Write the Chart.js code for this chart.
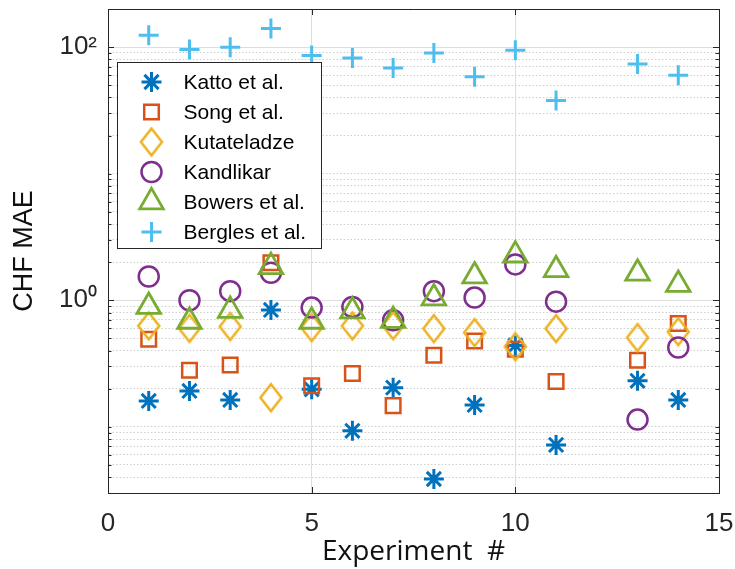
<!DOCTYPE html>
<html>
<head>
<meta charset="utf-8">
<title>CHF MAE by experiment</title>
<script src="https://cdn.jsdelivr.net/npm/chart.js@4.4.1/dist/chart.umd.min.js"></script>
<style>
  html, body { margin: 0; padding: 0; background: #fff; }
  #wrap { width: 735px; height: 569px; }
</style>
</head>
<body>
<div id="wrap"><canvas id="maeChart" width="735" height="569"></canvas></div>
<script>
// CHF mean absolute error for each experiment, one series per correlation
const experiments = [1, 2, 3, 4, 5, 6, 7, 8, 9, 10, 11, 13, 14];
const kattoMae     = [0.160, 0.192, 0.163, 0.838, 0.198, 0.093, 0.204, 0.0387, 0.149, 0.44, 0.072, 0.231, 0.163];
const songMae      = [0.492, 0.280, 0.308, 1.98, 0.211, 0.264, 0.147, 0.368, 0.477, 0.41, 0.228, 0.336, 0.654];
const kutateladzeMae = [0.627, 0.600, 0.620, 0.170, 0.608, 0.627, 0.630, 0.597, 0.555, 0.43, 0.597, 0.507, 0.565];
const kandlikarMae = [1.54, 1.00, 1.18, 1.65, 0.875, 0.885, 0.695, 1.18, 1.05, 1.92, 0.975, 0.114, 0.423];
const bowersMae    = [0.89, 0.68, 0.83, 1.84, 0.68, 0.82, 0.69, 1.04, 1.55, 2.27, 1.74, 1.63, 1.33];
const berglesMae   = [124, 95.7, 99.8, 140, 85.9, 82.2, 68.5, 90, 58.2, 94.6, 37.9, 73.7, 60];

const seriesNames  = ['Katto et al.', 'Song et al.', 'Kutateladze', 'Kandlikar', 'Bowers et al.', 'Bergles et al.'];
const seriesColors = ['#0072BD', '#D95319', '#EDB120', '#7E2F8E', '#77AC30', '#4DBEEE'];

const xTicks = [0, 5, 10, 15];
const yTicks = [0.03, 0.04, 0.05, 0.06, 0.07, 0.08, 0.09,
                0.1, 0.2, 0.3, 0.4, 0.5, 0.6, 0.7, 0.8, 0.9,
                1, 2, 3, 4, 5, 6, 7, 8, 9,
                10, 20, 30, 40, 50, 60, 70, 80, 90,
                100, 200];
const yTickLabels = { 1: '10\u2070', 100: '10\u00B2' };
const yMajor = [1, 100];

// tall hollow diamond, drawn once and reused as a point style
function diamondMarker(color) {
  const c = document.createElement('canvas');
  c.width = 26;
  c.height = 32;
  const g = c.getContext('2d');
  g.strokeStyle = color;
  g.lineWidth = 2.5;
  g.beginPath();
  g.moveTo(13, 2.5);
  g.lineTo(23.5, 16);
  g.lineTo(13, 29.5);
  g.lineTo(2.5, 16);
  g.closePath();
  g.stroke();
  return c;
}

const seriesValues = [kattoMae, songMae, kutateladzeMae, kandlikarMae, bowersMae, berglesMae];
const markerStyles = ['star', 'rect', diamondMarker(seriesColors[2]), 'circle', 'triangle', 'cross'];
const markerRadius = [10, 10.3, 10, 10, 13.6, 10];
const markerWidth  = [3, 2.5, 2.5, 2.5, 2.8, 3];

const datasets = seriesValues.map((vals, i) => ({
  label: seriesNames[i],
  data: experiments.map((x, j) => ({ x: x, y: vals[j] })),
  showLine: false,
  pointStyle: markerStyles[i],
  pointRadius: markerRadius[i],
  pointHoverRadius: markerRadius[i],
  pointBorderWidth: markerWidth[i],
  pointBorderColor: seriesColors[i],
  pointBackgroundColor: 'rgba(0,0,0,0)',
  borderColor: seriesColors[i],
  backgroundColor: 'rgba(0,0,0,0)',
  order: seriesValues.length - i
}));

const axisColor = '#262626';

function noPadding(s) {
  s.paddingTop = 0;
  s.paddingBottom = 0;
  s.paddingLeft = 0;
  s.paddingRight = 0;
}

// closes the box on top/right and adds inward tick marks
const framePlugin = {
  id: 'frame',
  afterDatasetsDraw(chart) {
    const { ctx, chartArea: a, scales } = chart;
    ctx.save();
    ctx.strokeStyle = axisColor;
    ctx.lineWidth = 1;
    ctx.beginPath();
    ctx.moveTo(a.left, a.top + 0.5);
    ctx.lineTo(a.right + 0.5, a.top + 0.5);
    ctx.lineTo(a.right + 0.5, a.bottom);
    yTicks.forEach(v => {
      const y = Math.round(scales.y.getPixelForValue(v)) + 0.5;
      const len = yMajor.includes(v) ? 6 : 3.5;
      ctx.moveTo(a.left, y);
      ctx.lineTo(a.left + len, y);
      ctx.moveTo(a.right, y);
      ctx.lineTo(a.right - len, y);
    });
    xTicks.forEach(v => {
      const x = Math.round(scales.x.getPixelForValue(v)) + 0.5;
      ctx.moveTo(x, a.bottom);
      ctx.lineTo(x, a.bottom - 6);
      ctx.moveTo(x, a.top);
      ctx.lineTo(x, a.top + 6);
    });
    ctx.stroke();
    ctx.restore();
  }
};

// boxed legend inside the upper-left of the plot
const boxLegendPlugin = {
  id: 'boxLegend',
  afterDatasetsDraw(chart) {
    const { ctx, chartArea: a } = chart;
    const left = a.left + 9.5, top = a.top + 53.5;
    const w = 204, h = 186, rowGap = 30;
    ctx.save();
    ctx.fillStyle = '#fff';
    ctx.strokeStyle = axisColor;
    ctx.lineWidth = 1;
    ctx.fillRect(left, top, w, h);
    ctx.strokeRect(left, top, w, h);
    ctx.font = '21px "Liberation Sans", Arial, sans-serif';
    ctx.textBaseline = 'middle';
    chart.data.datasets.forEach((ds, i) => {
      const cy = top + 19.5 + i * rowGap;
      const cx = left + 34;
      ctx.strokeStyle = ds.pointBorderColor;
      ctx.fillStyle = 'rgba(0,0,0,0)';
      ctx.lineWidth = ds.pointBorderWidth;
      Chart.helpers.drawPoint(ctx, {
        pointStyle: ds.pointStyle,
        radius: ds.pointRadius,
        rotation: 0,
        borderWidth: ds.pointBorderWidth
      }, cx, cy);
      ctx.fillStyle = '#000';
      ctx.fillText(ds.label, left + 66, cy + 1);
    });
    ctx.restore();
  }
};

new Chart(document.getElementById('maeChart'), {
  type: 'scatter',
  data: { datasets: datasets },
  plugins: [framePlugin, boxLegendPlugin],
  options: {
    responsive: false,
    animation: false,
    devicePixelRatio: 1,
    layout: { autoPadding: false, padding: { top: 9, right: 16, left: 0, bottom: 0 } },
    plugins: {
      legend: { display: false },
      tooltip: { enabled: false }
    },
    scales: {
      x: {
        type: 'linear',
        min: 0,
        max: 15,
        afterBuildTicks: s => { s.ticks = xTicks.map(v => ({ value: v })); },
        afterFit: s => { s.height = 76; noPadding(s); },
        grid: {
          color: c => (c.tick && (c.tick.value === 5 || c.tick.value === 10)) ? '#dedede' : 'rgba(0,0,0,0)',
          drawTicks: false
        },
        border: { display: true, color: axisColor, width: 1 },
        ticks: {
          autoSkip: false,
          maxRotation: 0,
          padding: 15,
          color: axisColor,
          font: { family: '"Liberation Sans", Arial, sans-serif', size: 26 }
        },
        title: {
          display: true,
          text: 'Experiment  #',
          color: '#111',
          font: { family: '"Open Sans", sans-serif', size: 28 },
          padding: { top: 0, bottom: 0 }
        }
      },
      y: {
        type: 'logarithmic',
        min: 0.03,
        max: 200,
        afterBuildTicks: s => { s.ticks = yTicks.map(v => ({ value: v })); },
        afterFit: s => { s.width = 108; noPadding(s); },
        grid: {
          color: c => (c.tick && yMajor.includes(c.tick.value)) ? '#dedede' : '#cfcfcf',
          drawTicks: false
        },
        border: {
          display: true,
          color: axisColor,
          width: 1,
          dash: c => (c.tick && !yMajor.includes(c.tick.value)) ? [1.5, 2] : []
        },
        ticks: {
          autoSkip: false,
          padding: 11,
          color: axisColor,
          font: { family: '"Liberation Sans", Arial, sans-serif', size: 26 },
          callback: v => yTickLabels[v] || ''
        },
        title: {
          display: true,
          text: 'CHF MAE',
          color: '#111',
          font: { family: '"Liberation Sans", Arial, sans-serif', size: 27 },
          padding: { top: 8, bottom: 0 }
        }
      }
    }
  }
});
</script>
</body>
</html>
